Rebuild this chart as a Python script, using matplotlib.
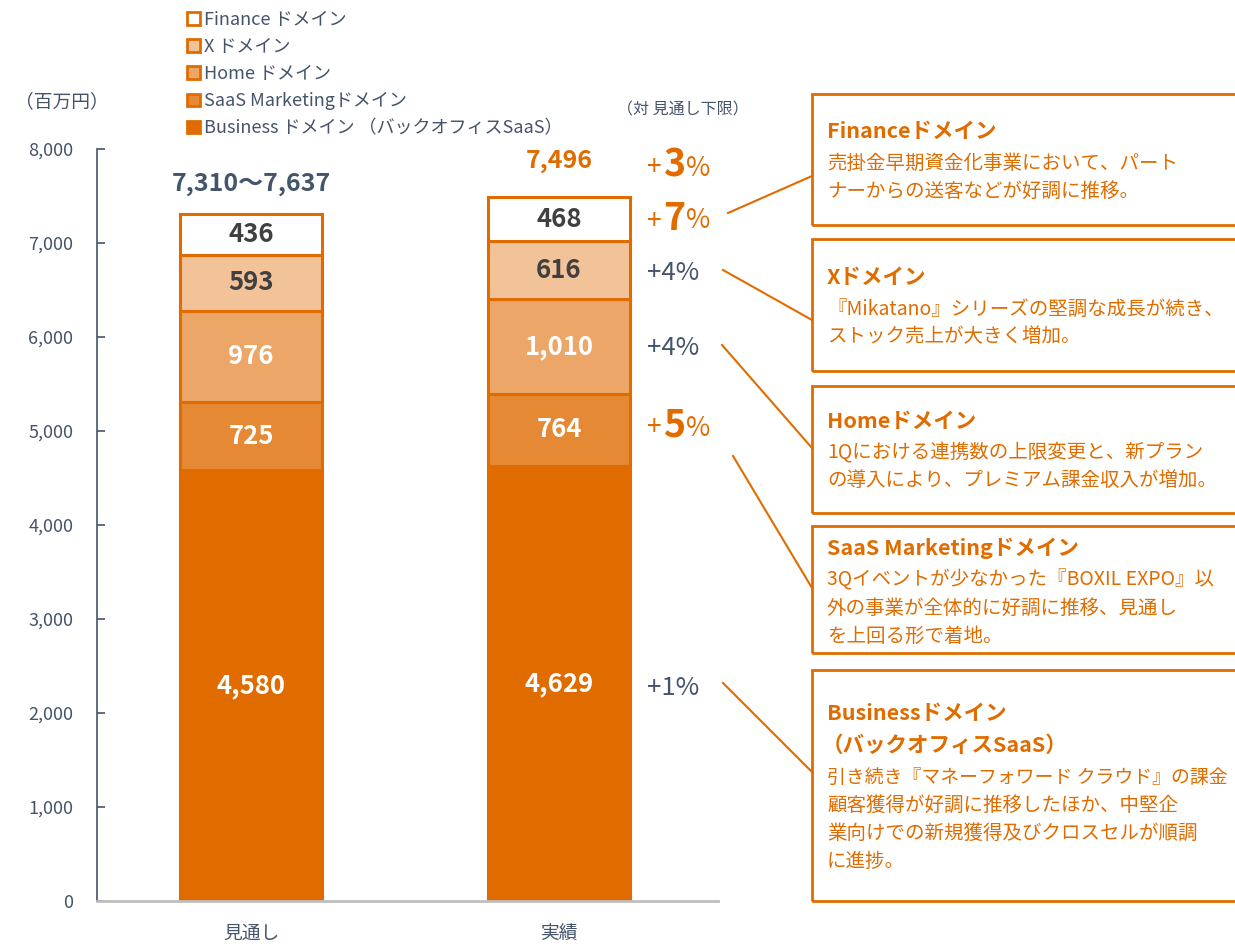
import matplotlib
matplotlib.use("Agg")
import matplotlib.pyplot as plt
from matplotlib.patches import Rectangle, Patch
from matplotlib.lines import Line2D

plt.rcParams['font.family'] = ['Noto Sans CJK JP', 'DejaVu Sans']

# data
categories = ['見通し', '実績']
segments = ['Business ドメイン （バックオフィスSaaS）', 'SaaS Marketingドメイン',
            'Home ドメイン', 'X ドメイン', 'Finance ドメイン']
forecast = [4580, 725, 976, 593, 436]
actual = [4629, 764, 1010, 616, 468]
total_labels = ['7,310〜7,637', '7,496']
pct_labels = ['+3%', '+7%', '+4%', '+4%', '+5%', '+1%']
pct_highlight = [True, True, False, False, True, False]

seg_colors = ['#E06C00', '#E68935', '#ECA668', '#F2C298', '#FFFFFF']
label_colors = ['white', 'white', 'white', '#404040', '#404040']
ORANGE = '#E06C00'
GRAY = '#44546A'

W, H = 1235, 948
fig = plt.figure(figsize=(W / 100, H / 100), dpi=100)


def fx(px):
    return px / W


def fy(py):
    return 1 - py / H


ax = fig.add_axes([fx(97), fy(901), fx(718) - fx(97), (901 - 149) / H])

values = [forecast, actual]
x = [0, 1]
bottoms = [0, 0]
for i in range(len(segments)):
    heights = [v[i] for v in values]
    ax.bar(x, heights, bottom=bottoms, width=0.46, color=seg_colors[i],
           edgecolor=ORANGE if i > 0 else seg_colors[0], linewidth=2.2, zorder=2)
    for j in range(2):
        ax.text(x[j], bottoms[j] + heights[j] / 2, f'{heights[j]:,}', ha='center', va='center',
                fontsize=18.5, fontweight='bold', color=label_colors[i], zorder=3)
    bottoms = [b + h for b, h in zip(bottoms, heights)]

ax.set_xlim(-0.5, 1.516)
ax.set_ylim(0, 8000)
ax.set_yticks(range(0, 8001, 1000))
ax.set_yticklabels([f'{t:,}' for t in range(0, 8001, 1000)])
ax.set_xticks(x)
ax.set_xticklabels(categories)
ax.tick_params(axis='y', direction='in', length=6, width=1.2, color=GRAY, pad=17,
               labelsize=13, labelcolor=GRAY)
ax.tick_params(axis='x', length=0, pad=16, labelsize=13.5, labelcolor=GRAY)
for s in ['top', 'right']:
    ax.spines[s].set_visible(False)
ax.spines['left'].set_color(GRAY)
ax.spines['left'].set_linewidth(1.2)
ax.spines['bottom'].set_color('#BFBFBF')
ax.spines['bottom'].set_linewidth(2)

# totals above bars
ax.text(0, 7310 + 320, total_labels[0], ha='center', va='center', fontsize=18,
        fontweight='bold', color=GRAY)
ax.text(1, 7487 + 390, total_labels[1], ha='center', va='center', fontsize=18,
        fontweight='bold', color=ORANGE)

fig.text(fx(62), fy(102), '（百万円）', ha='center', va='center', fontsize=13.5, color=GRAY)
fig.text(fx(683), fy(110), '（対 見通し下限）', ha='center', va='center', fontsize=11.5, color=GRAY)

# legend
handles = [Patch(facecolor=seg_colors[i], edgecolor=ORANGE, linewidth=2) for i in range(4, -1, -1)]
fig.legend(handles, segments[::-1], loc='upper left', bbox_to_anchor=(fx(178), fy(2)),
           frameon=False, fontsize=13, handlelength=0.7, handleheight=0.7,
           handletextpad=0.25, labelspacing=0.5, borderpad=0, labelcolor=GRAY)

# percent labels
pct_y = [165, 218, 273, 348, 425, 688]
for lab, hi, py in zip(pct_labels, pct_highlight, pct_y):
    if hi:
        fig.text(fx(674), fy(py), lab[1:-1], ha='center', va='center', fontsize=27,
                 fontweight='bold', color=ORANGE)
        fig.text(fx(662), fy(py + 3), '+', ha='right', va='center', fontsize=19, color=ORANGE)
        fig.text(fx(686), fy(py + 3), '%', ha='left', va='center', fontsize=19, color=ORANGE)
    else:
        fig.text(fx(673), fy(py), lab, ha='center', va='center', fontsize=18.5, color=GRAY)

# connector lines
connectors = [((728, 213), (812, 176)), ((723, 270), (812, 320)), ((722, 345), (812, 448)),
              ((733, 456), (812, 588)), ((723, 683), (812, 772))]
for (x0, y0), (x1, y1) in connectors:
    fig.add_artist(Line2D([fx(x0), fx(x1)], [fy(y0), fy(y1)], color=ORANGE, linewidth=1.5))

# comment boxes
boxes = [
    (94, 225, 'Financeドメイン', ['売掛金早期資金化事業において、パート', 'ナーからの送客などが好調に推移。']),
    (239, 371, 'Xドメイン', ['『Mikatano』シリーズの堅調な成長が続き、', 'ストック売上が大きく増加。']),
    (386, 513, 'Homeドメイン', ['1Qにおける連携数の上限変更と、新プラン', 'の導入により、プレミアム課金収入が増加。']),
    (526, 653, 'SaaS Marketingドメイン', ['3Qイベントが少なかった『BOXIL EXPO』以',
                                        '外の事業が全体的に好調に推移、見通し', 'を上回る形で着地。']),
    (670, 901, 'Businessドメイン\n（バックオフィスSaaS）', ['引き続き『マネーフォワード クラウド』の課金',
                                                    '顧客獲得が好調に推移したほか、中堅企',
                                                    '業向けでの新規獲得及びクロスセルが順調',
                                                    'に進捗。']),
]
title_off = [37, 38, 35, 22, 43]
renderer = fig.canvas.get_renderer()
for (top, bot, title, lines), toff in zip(boxes, title_off):
    fig.add_artist(Rectangle((fx(812), fy(bot)), fx(1250) - fx(812), (bot - top) / H,
                             facecolor='none', edgecolor=ORANGE, linewidth=2))
    ty = top + toff
    for k, tl in enumerate(title.split('\n')):
        fig.text(fx(827 if k == 0 else 822), fy(ty), tl, ha='left', va='center', fontsize=15.5,
                 fontweight='bold', color=ORANGE)
        ty += 32
    ly = ty
    for ln in lines:
        t = fig.text(fx(827), fy(ly), ln, ha='left', va='center', fontsize=14, color=ORANGE)
        # shrink a line only if it would run past the right edge
        while t.get_window_extent(renderer).x1 > W - 3:
            t.set_fontsize(t.get_fontsize() - 0.2)
        ly += 28

fig.savefig('out.png', dpi=100)
